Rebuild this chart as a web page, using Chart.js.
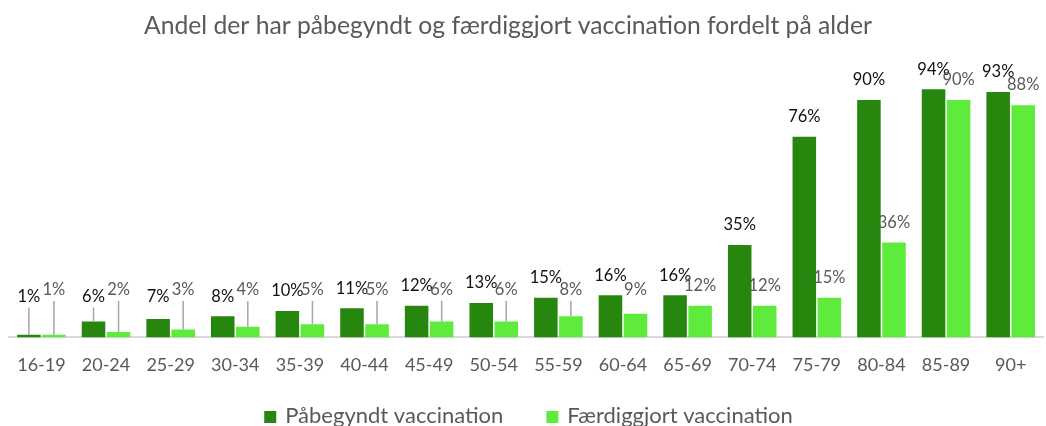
<!DOCTYPE html>
<html lang="da">
<head>
    <meta charset="UTF-8"/>
    <title>Vaccination fordelt på alder</title>
    <script src="https://cdn.jsdelivr.net/npm/chart.js@4.4.1/dist/chart.umd.min.js"></script>
    <style>
        body { margin: 0; background: #fff; }
    </style>
</head>
<body>

<canvas id="chart" width="1046" height="426"></canvas>

<script>
    // data
    const ageGroups = ['16-19', '20-24', '25-29', '30-34', '35-39', '40-44', '45-49', '50-54',
        '55-59', '60-64', '65-69', '70-74', '75-79', '80-84', '85-89', '90+'];
    const started = [1, 6, 7, 8, 10, 11, 12, 13, 15, 16, 16, 35, 76, 90, 94, 93];
    const completed = [1, 2, 3, 4, 5, 5, 6, 6, 8, 9, 12, 12, 15, 36, 90, 88];
    const chartTitle = 'Andel der har påbegyndt og færdiggjort vaccination fordelt på alder';

    const FONT = 'Lato, "Open Sans", sans-serif';
    const DARK = 'rgb(38, 134, 14)';
    const LIGHT = 'rgb(94, 235, 59)';

    // value labels above the bars, small ones lifted up with a grey leader line
    const barLabels = {
        id: 'barLabels',
        afterDatasetsDraw(chart) {
            const ctx = chart.ctx;
            const y = chart.scales.y;
            ctx.save();
            ctx.font = '16.5px ' + FONT;
            ctx.textAlign = 'center';
            ctx.textBaseline = 'middle';
            chart.data.datasets.forEach((ds, i) => {
                const meta = chart.getDatasetMeta(i);
                const floor = y.getPixelForValue(i === 0 ? 15.5 : 18);
                meta.data.forEach((bar, j) => {
                    const top = bar.y;
                    const ly = Math.min(top - 20, floor);
                    if (top - (ly + 9) > 15) {
                        ctx.strokeStyle = '#a6a6a6';
                        ctx.lineWidth = 1.5;
                        ctx.beginPath();
                        ctx.moveTo(bar.x, top);
                        ctx.lineTo(bar.x, ly + 11);
                        ctx.stroke();
                    }
                    ctx.fillStyle = i === 0 ? '#111' : '#595959';
                    ctx.fillText(Math.round(ds.data[j]) + '%', bar.x, ly);
                });
            });
            ctx.restore();
        }
    };

    // title and legend, placed like the original (title slightly left of centre)
    const titleAndLegend = {
        id: 'titleAndLegend',
        afterDraw(chart) {
            const ctx = chart.ctx;
            ctx.save();

            ctx.font = '24.7px ' + FONT;
            ctx.fillStyle = '#595959';
            ctx.textAlign = 'center';
            ctx.textBaseline = 'alphabetic';
            ctx.fillText(chartTitle, 508, 34);

            ctx.font = '22px ' + FONT;
            ctx.textAlign = 'left';
            ctx.textBaseline = 'middle';
            const items = chart.data.datasets.map(d => ({
                text: d.label, color: d.backgroundColor, w: ctx.measureText(d.label).width
            }));
            const box = 12, gap = 9, between = 43;
            let total = 0;
            items.forEach((it, k) => total += box + gap + it.w + (k ? between : 0));
            let x = 528.5 - total / 2;
            const cy = 416;
            items.forEach(it => {
                ctx.fillStyle = it.color;
                ctx.fillRect(x, cy - box / 2 + 1, box, box);
                x += box + gap;
                ctx.fillStyle = '#595959';
                ctx.fillText(it.text, x, cy);
                x += it.w + between;
            });
            ctx.restore();
        }
    };

    const ctx = document.getElementById('chart').getContext('2d');
    const myChart = new Chart(ctx, {
        type: 'bar',
        data: {
            labels: ageGroups,
            datasets: [
                {
                    label: 'Påbegyndt vaccination',
                    data: started,
                    backgroundColor: DARK,
                    categoryPercentage: 0.775,
                    barPercentage: 0.94
                },
                {
                    label: 'Færdiggjort vaccination',
                    data: completed,
                    backgroundColor: LIGHT,
                    categoryPercentage: 0.775,
                    barPercentage: 0.94
                }
            ]
        },
        options: {
            responsive: false,
            animation: false,
            layout: {
                padding: {left: 6, right: 3, top: 73.5, bottom: 33}
            },
            scales: {
                y: {
                    display: false,
                    min: 0,
                    max: 100
                },
                x: {
                    grid: {display: false, drawTicks: false},
                    border: {display: true, color: '#d9d9d9', width: 2},
                    ticks: {
                        color: '#595959',
                        padding: 17,
                        maxRotation: 0,
                        font: {family: FONT, size: 18}
                    }
                }
            },
            plugins: {
                legend: {display: false},
                tooltip: {enabled: false},
                title: {display: false}
            }
        },
        plugins: [barLabels, titleAndLegend]
    });
</script>

</body>
</html>
